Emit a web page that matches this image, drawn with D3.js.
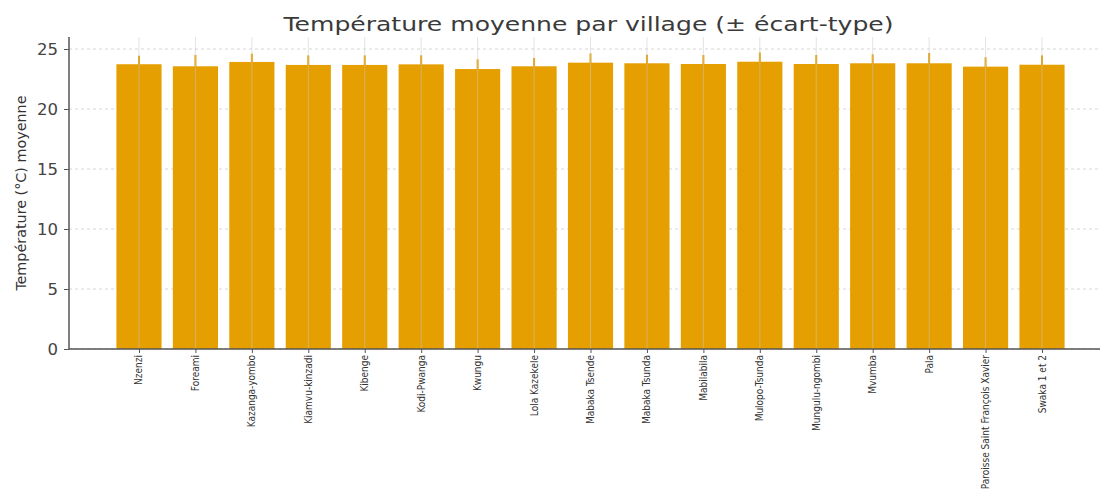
<!DOCTYPE html>
<html><head><meta charset="utf-8">
<script src="https://cdn.jsdelivr.net/npm/d3@7"></script>
<style>body{margin:0;background:#fff;overflow:hidden}svg{display:block}</style>
</head><body>
<svg id="c" width="1100" height="489"></svg>
<script>
const villages = ["Nzenzi","Foreami","Kazanga-yombo","Kiamvu-kinzadi","Kibenge","Kodi-Pwanga","Kwungu","Lola Kazekele","Mabaka Tsende","Mabaka Tsunda","Mabilabila","Mulopo-Tsunda","Mungulu-ngombi","Mvumba","Pala","Paroisse Saint François Xavier","Swaka 1 et 2"];
const means = [23.73,23.56,23.92,23.67,23.67,23.72,23.33,23.56,23.86,23.81,23.75,23.94,23.75,23.81,23.81,23.53,23.69];
const stds  = [0.71,0.94,0.69,0.80,0.80,0.75,0.81,0.69,0.78,0.72,0.75,0.78,0.75,0.75,0.86,0.78,0.78];
const yTicks = [0,5,10,15,20,25];
const titleText = "Température moyenne par village (± écart-type)";
const yLabel = "Température (°C) moyenne";

const svg = d3.select("#c");
const m = {left:69, top:37, bottom:349, right:1112};
const barColor = "#E69F00";

const x = d3.scaleLinear().domain([-1.24, villages.length - 1 + 1.24]).range([m.left, m.right]);
const y = d3.scaleLinear().domain([0, 26]).range([m.bottom, m.top]);
const step = x(1) - x(0);
const bw = step * 0.8;

// horizontal dashed grid
svg.append("g").selectAll("line").data(yTicks).join("line")
  .attr("x1", m.left).attr("x2", m.right)
  .attr("y1", d => y(d)).attr("y2", d => y(d))
  .attr("stroke", "#d6d6d6").attr("stroke-width", 1).attr("stroke-dasharray", "3,3");

// bars
svg.append("g").selectAll("rect").data(means).join("rect")
  .attr("x", (d,i) => x(i) - bw/2).attr("width", bw)
  .attr("y", d => y(d)).attr("height", d => y(0) - y(d))
  .attr("fill", barColor);

// error bars
svg.append("g").selectAll("line").data(means).join("line")
  .attr("x1", (d,i) => x(i)).attr("x2", (d,i) => x(i))
  .attr("y1", (d,i) => y(d - stds[i])).attr("y2", (d,i) => y(d + stds[i]))
  .attr("stroke", barColor).attr("stroke-width", 2);

// vertical grid (over bars)
svg.append("g").selectAll("line").data(villages).join("line")
  .attr("x1", (d,i) => x(i)).attr("x2", (d,i) => x(i))
  .attr("y1", m.top).attr("y2", m.bottom)
  .attr("stroke", "#c8c8c8").attr("stroke-opacity", 0.5).attr("stroke-width", 1);

// y axis
const yAxis = d3.axisLeft(y).tickValues(yTicks).tickSize(5).tickPadding(6).tickFormat(d3.format("d"));
const gy = svg.append("g").attr("transform", `translate(${m.left},0)`).call(yAxis);
gy.select(".domain").attr("stroke", "#555").attr("stroke-width", 1.5).attr("d", `M0,${m.top}V${m.bottom}`);
gy.selectAll(".tick line").attr("stroke", "#555");
gy.selectAll("text").attr("font-family", "DejaVu Sans").attr("font-size", 16.5).attr("fill", "#444");

// x axis
const xAxis = d3.axisBottom(x).tickValues(d3.range(villages.length)).tickSize(4).tickFormat(i => villages[i]);
const gx = svg.append("g").attr("transform", `translate(0,${m.bottom})`).call(xAxis);
gx.select(".domain").attr("stroke", "#555").attr("stroke-width", 1.5).attr("d", `M${m.left},0H${m.right}`);
gx.selectAll(".tick line").attr("stroke", "#555");
gx.selectAll("text")
  .attr("font-family", "'Liberation Sans Narrow','DejaVu Sans Condensed',sans-serif")
  .attr("font-size", 10).attr("fill", "#333")
  .attr("text-anchor", "end").attr("dy", null).attr("y", 0).attr("x", 0)
  .attr("transform", "translate(3,6) rotate(-90)");

// title
svg.append("text").attr("x", (m.left + m.right)/2 - 2).attr("y", 31)
  .attr("text-anchor", "middle").attr("font-family", "DejaVu Sans").attr("font-size", 20)
  .attr("fill", "#3a3a3a").attr("textLength", 610).attr("lengthAdjust", "spacingAndGlyphs")
  .text(titleText);

// y label
svg.append("text").attr("transform", `translate(26,${(m.top+m.bottom)/2}) rotate(-90)`)
  .attr("text-anchor", "middle").attr("font-family", "'Liberation Sans Narrow','DejaVu Sans Condensed',sans-serif")
  .attr("font-size", 14).attr("fill", "#333").attr("textLength", 195).attr("lengthAdjust", "spacingAndGlyphs")
  .text(yLabel);
</script>
</body></html>
